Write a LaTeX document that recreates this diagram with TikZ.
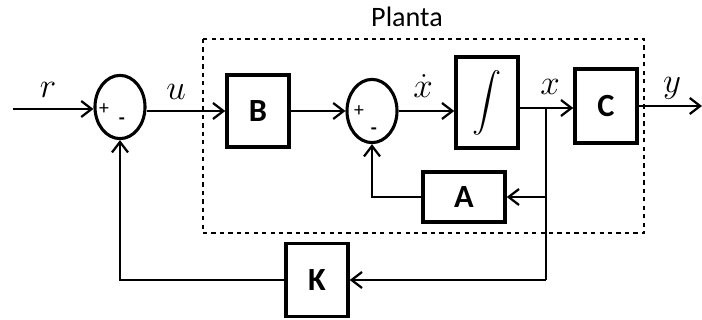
\documentclass[tikz,border=0pt]{standalone}
\usepackage{fontspec}
\setmainfont{Carlito}
\usepackage{amsmath}
\usepackage{tikz}
\usetikzlibrary{positioning, arrows.meta, calc, shapes.geometric}

\begin{document}
\begin{tikzpicture}[
    x=0.025cm, y=-0.025cm,
    block/.style={rectangle, draw, line width=2.5pt, minimum width=1.55cm, minimum height=1.8cm, font=\fontsize{23}{27}\selectfont\bfseries},
    sum/.style={ellipse, draw, line width=2.2pt, minimum width=1.25cm, minimum height=1.58cm, inner sep=0pt},
    sig/.style={font=\fontsize{23}{27}\selectfont},
    sgn/.style={font=\fontsize{14}{16}\selectfont, inner sep=0pt},
    line/.style={line width=1.6pt},
    arrow/.style={->, >={Straight Barb[length=2.6mm, width=4mm, line width=1.6pt]}, line width=1.6pt}
]
\useasboundingbox (0,0) rectangle (702,320);

% Sumatori
\node[sum] (s1) at (120,107) {};
\node[sum] (s2) at (372,111) {};

% Blocchi
\node[block] (B) at (258,111) {B};
\node[block, minimum height=2.28cm] (I) at (487,102.5) {\fontsize{22}{26}\selectfont$\displaystyle\int$};
\node[block, minimum height=1.85cm] (C) at (606,106) {C};
\node[block, minimum width=2.05cm, minimum height=1.25cm] (A) at (464,197) {A};
\node[block, minimum height=1.83cm] (K) at (317,280) {K};

% Segni
\node[sgn] (p1) at (104,109) {+};
\node[sgn] (m1) at (122,121) {\bfseries -};
\node[sgn] (p2) at (359,111) {+};
\node[sgn] (m2) at (374,131) {\bfseries -};

% Punti
\coordinate (in) at (13,109);
\coordinate (out) at (702,106);
\coordinate (bx) at (546,108);
\coordinate (bk) at (546,280);

% Planta
\draw[dashed, line width=0.8pt] (203,39) rectangle (644,233);
\node[font=\fontsize{20}{24}\selectfont] (planta) at (407,17) {Planta};

% Segnali
\draw[arrow] (in) -- (in -| s1.west);
\draw[arrow] (s1.east |- B.west) -- (B.west);
\draw[arrow] (B.east) -- (s2.west);
\draw[arrow] (s2.east) -- (s2.east -| I.west);
\draw[line] (I.east |- bx) -- (bx);
\draw[arrow] (bx) -- (bx -| C.west);
\draw[arrow] (C.east |- out) -- (out);

% Retroazioni
\draw[arrow] (bx |- A.east) -- (A.east);
\draw[arrow] (A.west) -- (s2 |- A.west) -- (s2.south);
\draw[line] (bx) -- (bk);
\draw[arrow] (bk) -- (K.east);
\draw[arrow] (K.west) -- (s1 |- K.west) -- (s1.south);

% Etichette
\node[sig] (lr) at (48,90) {$r$};
\node[sig] (lu) at (176,92) {$u$};
\node[sig] (lxd) at (423,86) {$\dot{x}$};
\node[sig] (lx) at (550,87) {$x$};
\node[sig] (ly) at (672,88) {$y$};

\end{tikzpicture}
\end{document}
